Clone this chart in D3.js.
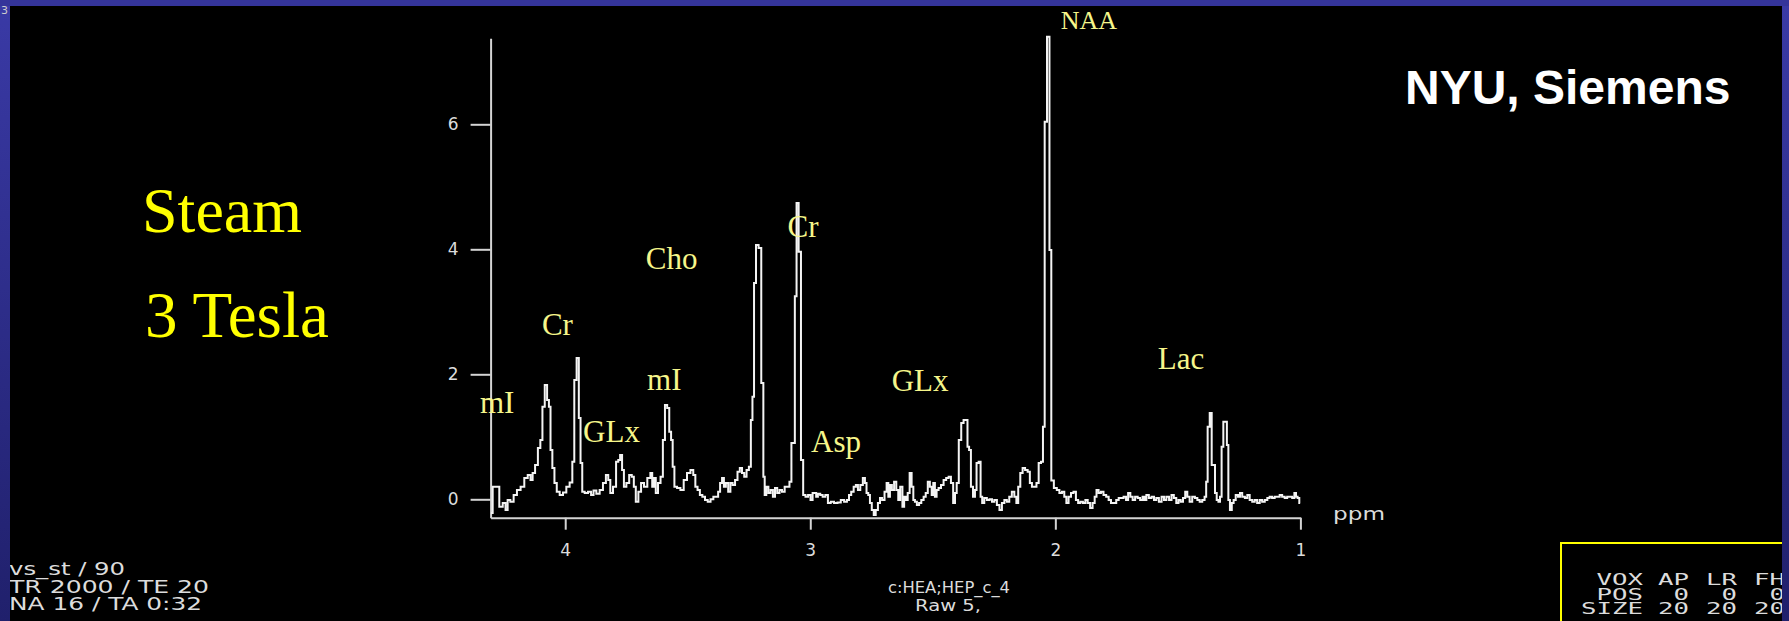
<!DOCTYPE html>
<html>
<head>
<meta charset="utf-8">
<script src="https://cdn.jsdelivr.net/npm/d3@7"></script>
<style>
  html, body { margin: 0; padding: 0; background: #000; overflow: hidden; }
</style>
</head>
<body>
<svg id="chart" width="1789" height="621"></svg>
<script>
// spectrum: [ppm, amplitude]
var spectrum = [
  [4.303,-0.22],[4.289,0.20],[4.276,0.20],[4.262,-0.12],[4.248,-0.06],[4.239,-0.17],[4.231,-0.01],[4.217,-0.04],
  [4.204,0.07],[4.190,0.15],[4.174,0.20],[4.160,0.34],[4.146,0.39],[4.137,0.31],[4.129,0.42],[4.117,0.55],
  [4.106,0.82],[4.097,0.95],[4.089,1.48],[4.078,1.83],[4.070,1.59],[4.063,1.48],[4.057,0.79],[4.048,0.50],
  [4.040,0.26],[4.029,0.12],[4.016,0.07],[4.002,0.11],[3.989,0.20],[3.975,0.27],[3.967,0.60],[3.959,1.91],
  [3.948,2.26],[3.941,1.30],[3.934,0.58],[3.927,0.12],[3.914,0.10],[3.900,0.12],[3.889,0.07],[3.880,0.14],
  [3.866,0.09],[3.853,0.15],[3.839,0.26],[3.829,0.39],[3.820,0.31],[3.812,0.10],[3.798,0.20],[3.787,0.60],
  [3.780,0.63],[3.772,0.71],[3.764,0.47],[3.757,0.20],[3.744,0.26],[3.734,0.39],[3.723,0.36],[3.717,0.20],
  [3.707,-0.04],[3.696,0.12],[3.685,0.26],[3.672,0.20],[3.658,0.34],[3.647,0.42],
  [3.643,0.20],[3.634,0.34],[3.627,0.10],[3.616,0.26],[3.606,0.36],[3.597,0.95],[3.589,1.51],[3.579,1.46],
  [3.572,1.08],[3.564,0.95],[3.559,0.52],[3.550,0.20],[3.537,0.18],[3.523,0.15],[3.510,0.31],[3.496,0.42],
  [3.482,0.47],[3.473,0.39],[3.465,0.20],[3.455,0.15],[3.446,0.07],[3.435,0.04],[3.424,-0.01],[3.413,-0.04],
  [3.401,0.00],[3.390,0.04],[3.380,0.04],[3.372,0.12],[3.364,0.26],[3.356,0.34],[3.349,0.20],[3.340,0.26],
  [3.330,0.12],[3.322,0.26],[3.312,0.23],[3.302,0.31],[3.292,0.44],[3.283,0.50],[3.274,0.42],[3.265,0.36],
  [3.255,0.47],[3.246,0.52],[3.239,1.27],[3.233,1.64],[3.226,3.46],[3.217,4.07],[3.205,4.02],[3.195,1.86],
  [3.188,0.36],[3.184,0.07],[3.175,0.20],[3.167,0.10],[3.157,0.15],[3.148,0.04],[3.140,0.18],[3.130,0.10],
  [3.121,0.15],[3.110,0.12],[3.099,0.20],[3.089,0.20],[3.081,0.28],[3.073,0.90],[3.066,0.90],[3.060,3.25],
  [3.052,4.74],[3.043,3.96],[3.033,0.63],[3.025,0.07],[3.014,0.04],[3.004,0.07],[2.994,-0.01],[2.987,0.10],
  [2.978,0.10],
  [2.974,0.04],[2.964,0.09],[2.955,0.07],[2.944,0.04],[2.933,0.07],[2.923,-0.06],[2.910,-0.04],[2.896,-0.06],
  [2.882,-0.05],[2.869,-0.01],[2.855,-0.04],[2.846,-0.01],[2.838,0.07],[2.828,0.12],[2.818,0.20],[2.810,0.23],
  [2.801,0.15],[2.791,0.23],[2.780,0.34],[2.774,0.26],[2.767,0.10],[2.760,0.07],[2.753,-0.06],[2.745,-0.17],
  [2.737,-0.25],[2.729,-0.17],[2.719,-0.06],[2.712,0.02],[2.702,-0.01],[2.692,0.12],[2.685,0.26],[2.678,0.04],
  [2.672,0.23],[2.662,0.15],[2.654,0.28],[2.644,0.15],[2.638,-0.01],[2.628,0.20],[2.620,-0.12],[2.614,0.04],
  [2.606,-0.01],[2.599,0.10],[2.590,0.42],[2.583,0.20],[2.576,-0.01],[2.570,-0.04],[2.560,-0.09],[2.552,-0.06],
  [2.542,-0.01],[2.533,0.04],[2.525,0.10],[2.516,0.28],[2.508,0.20],[2.501,0.07],[2.495,0.26],[2.488,0.04],
  [2.481,0.15],[2.472,0.18],[2.461,0.23],[2.451,0.31],[2.440,0.34],[2.431,0.36],[2.421,0.26],[2.413,-0.06],
  [2.406,0.10],[2.399,0.26],[2.389,0.95],[2.379,1.22],[2.370,1.27],[2.361,1.27],[2.356,0.84],[2.348,0.79],
  [2.341,0.20],[2.331,0.04],[2.325,0.15],[2.318,0.58],[2.308,0.60],
  [2.302,0.04],[2.295,-0.06],[2.285,0.02],[2.274,-0.01],[2.263,0.00],[2.254,-0.04],[2.244,-0.01],[2.233,-0.09],
  [2.223,-0.17],[2.213,-0.06],[2.203,-0.01],[2.193,-0.04],[2.183,0.04],[2.172,0.12],[2.163,0.04],[2.155,-0.06],
  [2.148,0.20],[2.138,0.42],[2.129,0.50],[2.118,0.47],[2.108,0.44],[2.100,0.26],[2.091,0.20],[2.081,0.20],
  [2.073,0.26],[2.063,0.58],[2.054,0.60],[2.047,1.16],[2.040,6.04],[2.028,7.40],[2.020,3.99],[2.013,0.30],
  [1.999,0.18],[1.989,0.15],[1.978,0.10],[1.968,0.12],[1.959,0.04],[1.951,-0.06],[1.941,0.04],[1.931,0.10],
  [1.921,0.12],[1.911,-0.01],[1.903,-0.06],[1.893,-0.04],[1.882,-0.06],[1.873,-0.01],[1.863,-0.06],[1.853,-0.14],
  [1.843,-0.06],[1.836,0.04],[1.828,0.15],[1.819,0.10],[1.809,0.12],[1.798,0.07],[1.787,0.04],[1.778,-0.01],
  [1.768,-0.06],[1.757,-0.06],[1.746,-0.01],[1.737,0.02],[1.727,0.02],[1.716,0.04],[1.707,-0.01],[1.699,0.10],
  [1.689,0.04],[1.680,-0.01],[1.669,0.04],[1.659,0.02],[1.649,-0.01],[1.639,0.04],
  [1.633,-0.01],[1.624,0.07],[1.613,0.02],[1.602,0.04],[1.593,-0.01],[1.583,0.02],[1.572,-0.04],[1.561,0.04],
  [1.552,-0.01],[1.542,0.04],[1.530,-0.01],[1.522,0.07],[1.511,0.02],[1.502,-0.06],[1.493,-0.01],[1.484,-0.04],
  [1.474,0.02],[1.466,0.12],[1.457,0.04],[1.447,-0.04],[1.436,0.04],[1.425,0.02],[1.416,-0.01],[1.406,-0.04],
  [1.395,-0.01],[1.387,0.04],[1.382,0.28],[1.375,1.16],[1.365,1.38],[1.359,0.55],[1.352,0.55],[1.345,0.10],
  [1.338,-0.01],[1.331,-0.04],[1.325,0.04],[1.318,0.84],[1.311,1.24],[1.303,1.24],[1.297,0.87],[1.291,-0.01],
  [1.284,-0.17],[1.276,-0.06],[1.269,-0.01],[1.259,0.07],[1.250,0.04],[1.243,0.10],[1.232,0.04],[1.221,0.02],
  [1.212,0.07],[1.202,-0.01],[1.191,-0.04],[1.182,-0.01],[1.171,-0.06],[1.161,-0.01],[1.151,-0.04],[1.140,-0.01],
  [1.130,0.02],[1.121,0.04],[1.110,0.02],[1.100,0.04],[1.089,0.04],[1.080,0.07],[1.069,0.04],[1.059,0.02],
  [1.049,0.04],[1.039,0.04],[1.028,0.02],[1.021,0.10],[1.015,0.04],[1.008,0.02],[1.001,-0.06]
];

var xTicks = [4, 3, 2, 1];
var yTicks = [0, 2, 4, 6];

// metabolite labels, anchored in data space (left edge ppm, baseline amplitude)
var peakNames = ["mI", "Cr", "GLx", "mI", "Cho", "Cr", "Asp", "GLx", "NAA", "Lac"];
var peakPpm   = [4.348, 4.095, 3.927, 3.666, 3.671, 3.093, 2.997, 2.668, 1.978, 1.582];
var peakAmp   = [1.38, 2.63, 0.91, 1.75, 3.68, 4.19, 0.76, 1.74, 7.52, 2.09];

var titleLines = ["Steam", "3 Tesla"];
var siteName = "NYU, Siemens";
var scanInfo = ["vs_st / 90", "TR 2000 / TE 20", "NA 16 / TA 0:32"];
var fileInfo = ["c:HEA;HEP_c_4", "Raw 5,"];
var voxRows = [["VOX", "AP", "LR", "FH"], ["POS", "0", "0", "0"], ["SIZE", "20", "20", "20"]];

var svg = d3.select("#chart");

var x = d3.scaleLinear().domain([4.3045, 1.0]).range([490.6, 1300.4]),
    y = d3.scaleLinear().domain([-0.2944, 7.376]).range([517.7, 38.3]);

var xAxis = d3.axisBottom(x).tickValues(xTicks).tickSize(12).tickSizeOuter(0).tickPadding(14).tickFormat(d3.format("d")),
    yAxis = d3.axisLeft(y).tickValues(yTicks).tickSize(20).tickSizeOuter(0).tickPadding(12).tickFormat(d3.format("d"));

var gx = svg.append("g")
    .attr("transform", "translate(0," + y.range()[0] + ")")
    .call(xAxis);
var gy = svg.append("g")
    .attr("transform", "translate(" + x.range()[0] + ",0)")
    .call(yAxis);

[gx, gy].forEach(function (g) {
    g.selectAll("path, line").attr("stroke", "#d4d4d4").attr("stroke-width", 2);
    g.selectAll("text")
        .attr("fill", "#dcdcdc")
        .style("font-family", "'DejaVu Sans', sans-serif")
        .style("font-size", "17px");
});

svg.append("text")
    .attr("x", 1333).attr("y", 520)
    .attr("textLength", 52).attr("lengthAdjust", "spacingAndGlyphs")
    .attr("fill", "#dcdcdc")
    .style("font-family", "'DejaVu Sans', sans-serif")
    .style("font-size", "17px")
    .text("ppm");

// the trace
var line = d3.line()
    .x(function (d) { return x(d[0]); })
    .y(function (d) { return y(d[1]); })
    .curve(d3.curveStep);

svg.append("path")
    .datum(spectrum)
    .attr("d", line)
    .attr("fill", "none")
    .attr("stroke", "#f4f4f4")
    .attr("stroke-width", 2);

// peak labels
svg.selectAll("text.peak")
    .data(peakNames)
    .enter().append("text")
    .attr("class", "peak")
    .attr("x", function (d, i) { return x(peakPpm[i]); })
    .attr("y", function (d, i) { return y(peakAmp[i]); })
    .attr("fill", "#f6f68a")
    .style("font-family", "'Liberation Serif', serif")
    .style("font-size", function (d) { return d === "NAA" ? "26px" : "31px"; })
    .text(function (d) { return d; });

// big titles
svg.append("text").attr("x", 142).attr("y", 232)
    .attr("fill", "#ffff00")
    .style("font-family", "'Liberation Serif', serif").style("font-size", "64px")
    .text(titleLines[0]);
svg.append("text").attr("x", 145).attr("y", 337)
    .attr("fill", "#ffff00")
    .style("font-family", "'Liberation Serif', serif").style("font-size", "65px")
    .text(titleLines[1]);

svg.append("text").attr("x", 1405).attr("y", 104)
    .attr("fill", "#ffffff")
    .style("font-family", "'Liberation Sans', Arial, sans-serif")
    .style("font-weight", "bold").style("font-size", "48px")
    .text(siteName);

// scanner info text
var infoFont = "'DejaVu Sans', sans-serif";
var scanLen = [116, 200, 193];
scanInfo.forEach(function (t, i) {
    svg.append("text")
        .attr("x", 9).attr("y", 575 + i * 17.5)
        .attr("textLength", scanLen[i]).attr("lengthAdjust", "spacingAndGlyphs")
        .attr("fill", "#dcdcdc")
        .style("font-family", infoFont).style("font-size", "17px")
        .text(t);
});

var fileLen = [122, 66], fileX = [888, 915];
fileInfo.forEach(function (t, i) {
    svg.append("text")
        .attr("x", fileX[i]).attr("y", 593 + i * 17.5)
        .attr("textLength", fileLen[i]).attr("lengthAdjust", "spacingAndGlyphs")
        .attr("fill", "#dcdcdc")
        .style("font-family", infoFont).style("font-size", "16px")
        .text(t);
});

// voxel box
svg.append("rect")
    .attr("x", 1561).attr("y", 543)
    .attr("width", 260).attr("height", 120)
    .attr("fill", "none").attr("stroke", "#ffff00").attr("stroke-width", 2);

var colRight = [1643, 1689, 1737, 1785];
voxRows.forEach(function (row, r) {
    row.forEach(function (t, c) {
        svg.append("text")
            .attr("x", colRight[c] - t.length * 15.5).attr("y", 585 + r * 14.5)
            .attr("textLength", t.length * 15.5).attr("lengthAdjust", "spacingAndGlyphs")
            .attr("fill", "#dcdcdc")
            .style("font-family", "'DejaVu Sans Mono', monospace").style("font-size", "15px")
            .text(t);
    });
});

// slide frame
var grad = svg.append("defs").append("linearGradient")
    .attr("id", "frame").attr("x1", 0).attr("y1", 0).attr("x2", 0).attr("y2", 1);
grad.append("stop").attr("offset", "0%").attr("stop-color", "#3a3aa6");
grad.append("stop").attr("offset", "100%").attr("stop-color", "#20206c");

svg.append("rect").attr("x", 0).attr("y", 0).attr("width", 10).attr("height", 621).attr("fill", "url(#frame)");
svg.append("rect").attr("x", 1782).attr("y", 0).attr("width", 7).attr("height", 621).attr("fill", "url(#frame)");
svg.append("rect").attr("x", 0).attr("y", 0).attr("width", 1789).attr("height", 6).attr("fill", "#34349a");

svg.append("text").attr("x", 1).attr("y", 14)
    .attr("fill", "#cccccc")
    .style("font-family", infoFont).style("font-size", "11px")
    .text("3");
</script>
</body>
</html>
